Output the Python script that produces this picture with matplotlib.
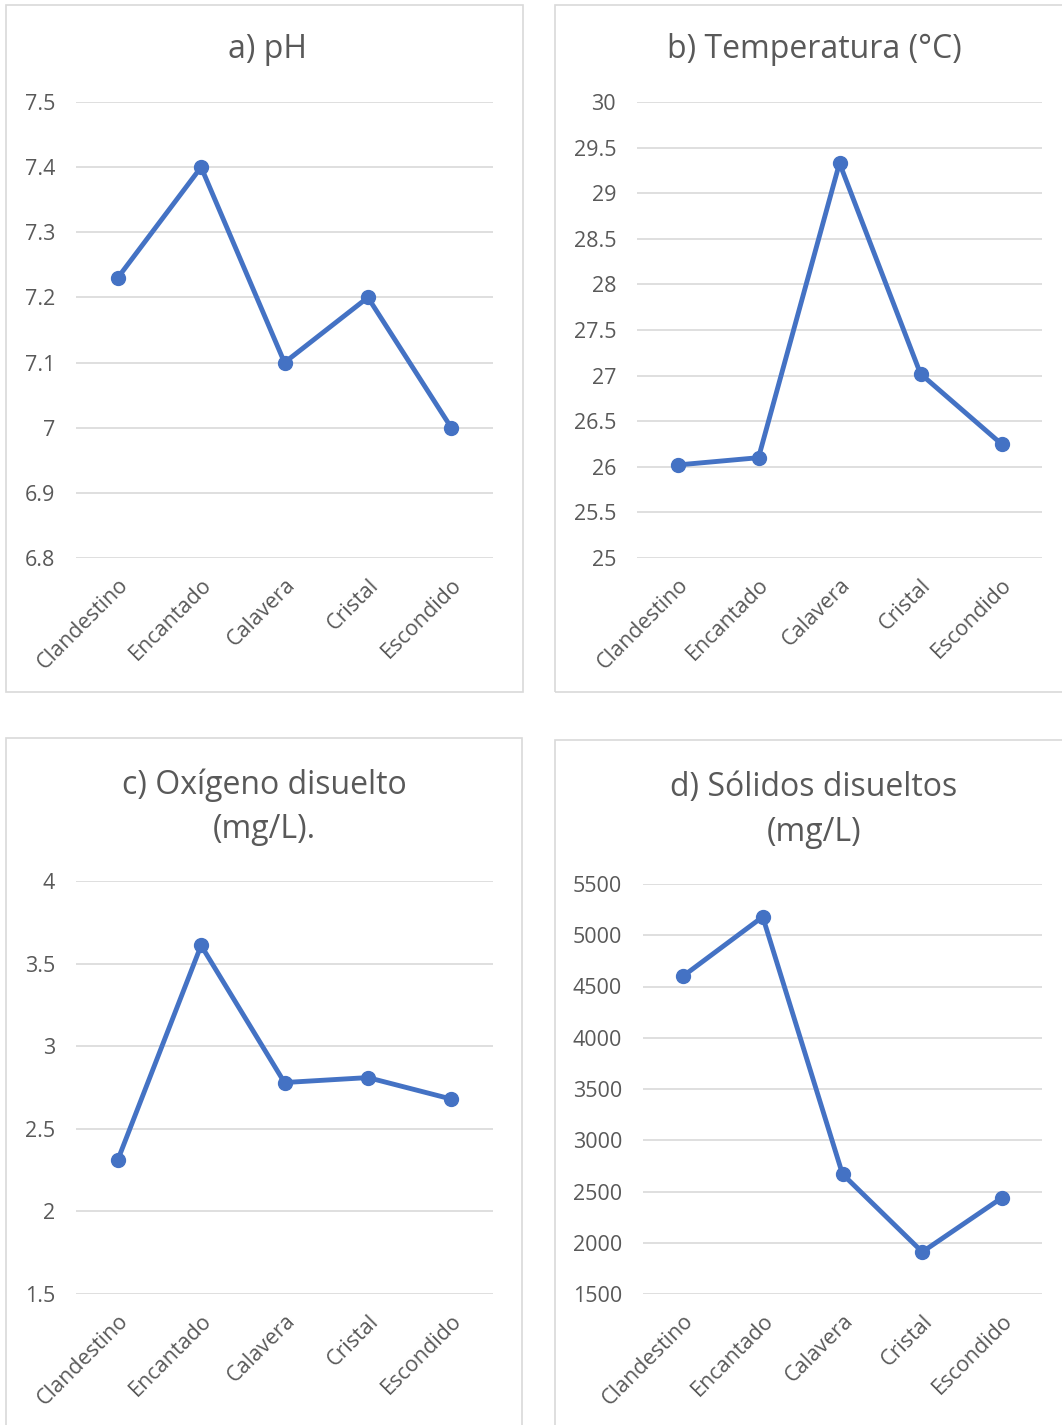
import matplotlib
matplotlib.use('Agg')
import matplotlib.pyplot as plt
from matplotlib.patches import Rectangle

plt.rcParams['font.family'] = ['Open Sans', 'DejaVu Sans']

# Data
lagunas = ['Clandestino', 'Encantado', 'Calavera', 'Cristal', 'Escondido']
ph = [7.23, 7.40, 7.10, 7.20, 7.00]
temperatura = [26.02, 26.10, 29.33, 27.02, 26.25]
oxigeno = [2.31, 3.61, 2.78, 2.81, 2.68]
solidos = [4600, 5180, 2670, 1910, 2440]

ph_ticks = [6.8, 6.9, 7.0, 7.1, 7.2, 7.3, 7.4, 7.5]
ph_labels = ['6.8', '6.9', '7', '7.1', '7.2', '7.3', '7.4', '7.5']
temp_ticks = [25, 25.5, 26, 26.5, 27, 27.5, 28, 28.5, 29, 29.5, 30]
temp_labels = ['25', '25.5', '26', '26.5', '27', '27.5', '28', '28.5', '29', '29.5', '30']
ox_ticks = [1.5, 2, 2.5, 3, 3.5, 4]
ox_labels = ['1.5', '2', '2.5', '3', '3.5', '4']
sol_ticks = [1500, 2000, 2500, 3000, 3500, 4000, 4500, 5000, 5500]
sol_labels = [str(t) for t in sol_ticks]

W, H = 1062, 1425
fig = plt.figure(figsize=(W / 100, H / 100), dpi=100)
fig.patch.set_facecolor('white')

blue = '#4472C4'
grey_txt = '#595959'
grid_c = '#D9D9D9'


def px_axes(x0, y0, x1, y1):
    # pixel box (top-left origin) -> figure fraction
    return fig.add_axes([x0 / W, 1 - y1 / H, (x1 - x0) / W, (y1 - y0) / H])


def panel(box, plot_box, title, title_xy, values, ticks, labels):
    bx0, by0, bx1, by1 = box
    fig.patches.append(Rectangle((bx0 / W, 1 - by1 / H), (bx1 - bx0) / W, (by1 - by0) / H,
                                 transform=fig.transFigure, fill=False,
                                 edgecolor=grid_c, linewidth=1.2))
    ax = px_axes(*plot_box)
    x = range(len(lagunas))
    ax.plot(x, values, color=blue, linewidth=3.5, marker='o', markersize=10,
            solid_capstyle='round', zorder=3)
    ax.set_xlim(-0.5, len(lagunas) - 0.5)
    ax.set_ylim(ticks[0], ticks[-1])
    ax.set_yticks(ticks)
    ax.set_yticklabels(labels)
    ax.set_xticks(list(x))
    ax.set_xticklabels(lagunas, rotation=45, ha='right', va='top',
                       rotation_mode='anchor')
    ax.grid(axis='y', color=grid_c, linewidth=1.2)
    ax.set_axisbelow(True)
    for s in ax.spines.values():
        s.set_visible(False)
    ax.tick_params(axis='both', length=0, colors=grey_txt, labelsize=15.5)
    ax.tick_params(axis='y', pad=15)
    ax.tick_params(axis='x', pad=12)
    fig.text(title_xy[0] / W, 1 - title_xy[1] / H, title, ha='center', va='center',
             fontsize=23, color=grey_txt, linespacing=1.45)
    return ax


panel((6, 5, 523, 692), (76, 102, 493, 558), 'a) pH', (268, 50),
      ph, ph_ticks, ph_labels)
panel((555, 5, 1075, 692), (637, 102, 1042, 558), 'b) Temperatura (°C)', (814, 50),
      temperatura, temp_ticks, temp_labels)
panel((6, 738, 522, 1440), (76, 881, 493, 1294), 'c) Oxígeno disuelto\n(mg/L).', (264, 807),
      oxigeno, ox_ticks, ox_labels)
panel((555, 740, 1075, 1440), (643, 884, 1042, 1294), 'd) Sólidos disueltos\n(mg/L)', (814, 810),
      solidos, sol_ticks, sol_labels)

fig.savefig('out.png', dpi=100)
